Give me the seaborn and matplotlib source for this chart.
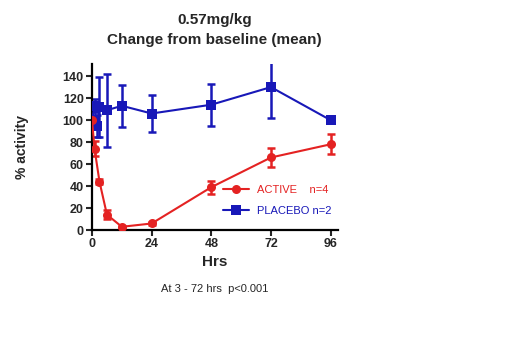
import pandas as pd
import numpy as np
import matplotlib
matplotlib.use('Agg')
import matplotlib.pyplot as plt
import seaborn as sns

# values
active_hrs = [0, 1, 3, 6, 12, 24, 48, 72, 96]
active_mean = [100, 74, 44, 14, 3, 6, 39, 66, 78]
active_err = [0, 7, 2, 4, 1, 1, 6, 8.5, 9]

placebo_hrs = [0, 1, 2, 3, 6, 12, 24, 48, 72, 96]
placebo_mean = [100, 113, 95, 112, 109, 113, 106, 114, 130, 100]
placebo_err = [0, 6, 10, 27, 33, 19, 17, 19, 28, 0]

x_ticks = [0, 24, 48, 72, 96]
y_ticks = [0, 20, 40, 60, 80, 100, 120, 140]

red = '#e42222'
blue = '#1818b8'

df = pd.concat([
    pd.DataFrame({'hrs': active_hrs, 'pct': active_mean, 'err': active_err, 'group': 'ACTIVE    n=4'}),
    pd.DataFrame({'hrs': placebo_hrs, 'pct': placebo_mean, 'err': placebo_err, 'group': 'PLACEBO n=2'}),
])

sns.set_style('ticks')
plt.rcParams['font.family'] = ['Liberation Sans', 'DejaVu Sans']

fig = plt.figure(figsize=(5.2, 3.46), dpi=100)
ax = fig.add_axes([0.177, 0.335, 0.473, 0.48])

palette = {'ACTIVE    n=4': red, 'PLACEBO n=2': blue}
markers = {'ACTIVE    n=4': 'o', 'PLACEBO n=2': 's'}

# placebo first so active sits on top at baseline
for grp in ['PLACEBO n=2', 'ACTIVE    n=4']:
    d = df[df['group'] == grp]
    ax.errorbar(d['hrs'], d['pct'], yerr=d['err'], fmt='none', ecolor=palette[grp],
                elinewidth=1.8, capsize=3, capthick=1.8, zorder=2)
    sns.lineplot(data=d, x='hrs', y='pct', color=palette[grp], marker=markers[grp],
                 markersize=6.5, markeredgewidth=0, linewidth=1.5, ax=ax, label=grp, zorder=3)

ax.set_xlim(0, 99)
ax.set_ylim(0, 151)
ax.set_xticks(x_ticks)
ax.set_yticks(y_ticks)
for lab in ax.get_xticklabels() + ax.get_yticklabels():
    lab.set_fontweight('bold')
    lab.set_fontsize(9)
ax.tick_params(direction='out', length=4, width=1.5, pad=2)
for s in ['left', 'bottom']:
    ax.spines[s].set_linewidth(1.6)
    ax.spines[s].set_color('black')
sns.despine(ax=ax)

ax.set_xlabel('Hrs', fontsize=11, fontweight='bold', labelpad=3)
ax.set_ylabel('% activity', fontsize=10, fontweight='bold', labelpad=24)

handles, labels = ax.get_legend_handles_labels()
order = [labels.index('ACTIVE    n=4'), labels.index('PLACEBO n=2')]
leg = ax.legend([handles[i] for i in order], [labels[i] for i in order],
                loc='lower right', bbox_to_anchor=(0.99, 0.06), frameon=False, borderaxespad=0,
                fontsize=8, handlelength=2.3, handletextpad=0.7, labelspacing=0.95)
for txt, c in zip(leg.get_texts(), [red, blue]):
    txt.set_color(c)

fig.text(0.413, 0.942, '0.57mg/kg', ha='center', va='center', fontsize=11, fontweight='bold')
fig.text(0.413, 0.884, 'Change from baseline (mean)', ha='center', va='center', fontsize=11, fontweight='bold')
fig.text(0.413, 0.165, 'At 3 - 72 hrs  p<0.001', ha='center', va='center', fontsize=8)

fig.savefig('out.png', dpi=100)
